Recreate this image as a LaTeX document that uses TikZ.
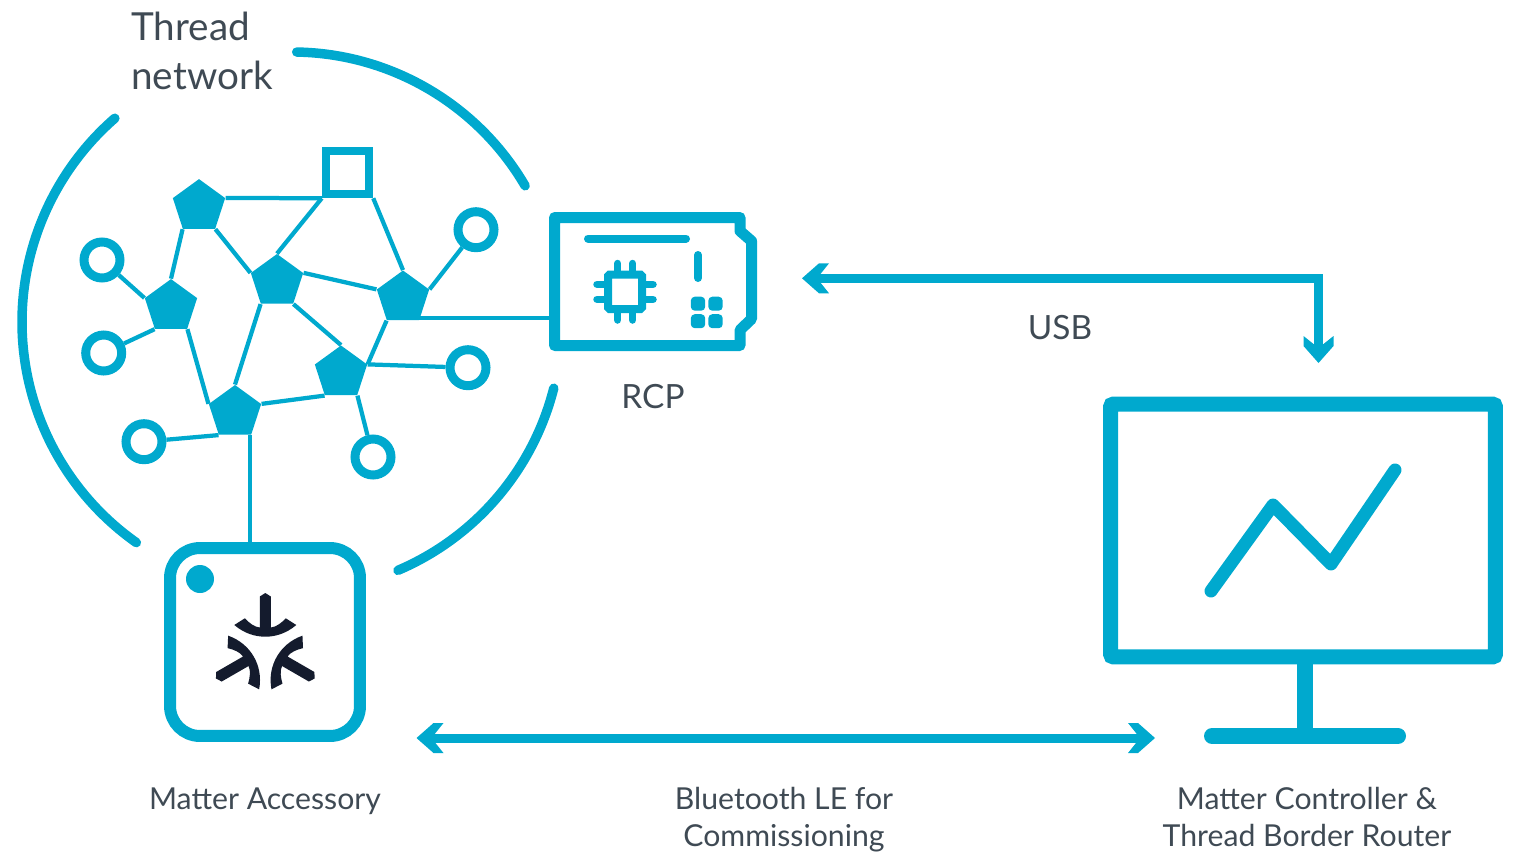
\documentclass[tikz,border=0pt]{standalone}
\usepackage{fontspec}
\setmainfont{Lato}
\usetikzlibrary{shapes.geometric}
\definecolor{nordic}{HTML}{00A9CE}
\definecolor{labelgray}{HTML}{3F4A54}
\definecolor{logodark}{HTML}{141B2D}
\tikzset{
    hub/.style={regular polygon, regular polygon sides=5, fill=nordic, inner sep=0pt, minimum size=1.1cm},
    leaf/.style={circle, draw=nordic, line width=0.18cm, fill=white, inner sep=0pt, minimum size=0.72cm},
    link/.style={color=nordic, line width=0.085cm},
    wave/.style={color=nordic, line width=0.19cm, line cap=round},
    part/.style={color=nordic, line width=0.16cm, line cap=round, line join=round},
    dbl/.style={color=nordic, line width=0.18cm, shorten <=0.2cm, shorten >=0.2cm},
    label/.style={color=labelgray, font=\fontsize{19}{24}\selectfont, align=center},
    small label/.style={label, font=\fontsize{17.2}{21}\selectfont},
    chevron/.pic={\fill[color=nordic] (0,0) -- (17,15) -- (27,15) -- (15,0) -- (27,-15) -- (17,-15) -- cycle;}
}
\begin{document}
\begin{tikzpicture}[x=0.02cm, y=-0.02cm]
    \useasboundingbox (0,0) rectangle (1513,865);

    \coordinate (C) at (292,322);
    \draw[wave] (C) ++(-89:270) arc[start angle=-89, end angle=-30.3, radius=270];
    \draw[wave] (C) ++(14.2:270) arc[start angle=14.2, end angle=66.9, radius=270];
    \draw[wave] (C) ++(125.2:270) arc[start angle=125.2, end angle=229, radius=270];

    % hubs and leaves
    \node[hub] (H1) at (199,206.6) {};
    \node[hub] (H2) at (171,306.6) {};
    \node[hub] (H3) at (277,281.5) {};
    \node[hub] (H4) at (403,298) {};
    \node[hub] (H5) at (341,373) {};
    \node[hub] (H6) at (235,412.5) {};
    \node[leaf] (L1) at (102,260) {};
    \node[leaf] (L2) at (103.7,353) {};
    \node[leaf] (L3) at (144,441.7) {};
    \node[leaf] (L4) at (373,457) {};
    \node[leaf] (L5) at (468,367.7) {};
    \node[leaf] (L6) at (476,229.7) {};
    \node[draw=nordic, line width=0.16cm, fill=white, inner sep=0pt, minimum size=0.87cm] (G) at (347.5,172.5) {};

    \coordinate (R) at (555,318);
    \coordinate (A) at (250,548);

    \draw[link] (H1.corner 5) -- (G.south west);
    \draw[link] (H1.corner 3) -- (H2.corner 1);
    \draw[link] (H1.corner 4) -- (H3.corner 2);
    \draw[link] (G.south west) -- (H3.corner 1);
    \draw[link] (G.south east) -- (H4.corner 1);
    \draw[link] (H3.corner 5) -- (H4.corner 2);
    \draw[link] (H3.corner 3) -- (H6.corner 1);
    \draw[link] (H3.corner 4) -- (H5.corner 1);
    \draw[link] (H2.corner 4) -- (H6.corner 2);
    \draw[link] (H6.corner 5) -- (H5.corner 3);
    \draw[link] (H4.corner 3) -- (H5.corner 5);
    \draw[link] (H2.corner 2) -- (L1);
    \draw[link] (H2.corner 3) -- (L2);
    \draw[link] (H6.corner 3) -- (L3);
    \draw[link] (H5.corner 4) -- (L4);
    \draw[link] (H5.corner 5) -- (L5);
    \draw[link] (H4.corner 5) -- (L6);
    \draw[link] (H4.corner 4 |- R) -- (R);
    \draw[link] (H6.south -| A) -- (A);

    % RCP board
    \draw[color=nordic, line width=0.22cm, line join=round]
        (554.5,217.5) -- (740,217.5) -- (740,231) -- (751.5,241) -- (751.5,319) -- (740,330) -- (740,345.5) -- (554.5,345.5) -- cycle;
    \draw[part] (588,238.5) -- (686,238.5);
    \draw[part] (698,255) -- (698,278);
    \foreach \x in {698,715.5}
        \foreach \y in {303.7,321.2}
            \fill[color=nordic, rounded corners=0.08cm] (\x-7.2,\y-7) rectangle (\x+7.2,\y+7);
    \draw[color=nordic, line width=0.16cm, rounded corners=0.03cm] (608,274.5) rectangle (642,309);
    \foreach \x in {617.7,632.7} {
        \draw[part, line width=0.15cm] (\x,263.5) -- (\x,271);
        \draw[part, line width=0.15cm] (\x,312) -- (\x,320);
    }
    \foreach \y in {284.3,299.3} {
        \draw[part, line width=0.15cm] (597,\y) -- (605,\y);
        \draw[part, line width=0.15cm] (645,\y) -- (653,\y);
    }

    % accessory
    \node[draw=nordic, fill=white, line width=0.24cm, rounded corners=0.6cm, minimum width=3.8cm, minimum height=3.76cm, inner sep=0pt] (acc) at (265,642) {};
    \fill[color=nordic] (200,579) circle (0.28cm);
    \foreach \a in {0,120,240}
        \fill[color=logodark, shift={(265.3,650)}, rotate=\a]
            (0,-57) -- (5.5,-53.5) -- (5.5,-22.5) .. controls (11,-23) and (16,-27) .. (20.5,-31.7)
            -- (31,-25) .. controls (21,-16.5) and (10,-13.3) .. (0,-13.3)
            .. controls (-10,-13.3) and (-21,-16.5) .. (-31,-25)
            -- (-20.5,-31.7) .. controls (-16,-27) and (-11,-23) .. (-5.5,-22.5) -- (-5.5,-53.5) -- cycle;

    % monitor
    \draw[color=nordic, line width=0.32cm] (1305,664) -- (1305,736);
    \draw[color=nordic, line width=0.32cm, line cap=round] (1212,736) -- (1398,736);
    \node[draw=nordic, line width=0.3cm, rounded corners=0.06cm, minimum width=7.7cm, minimum height=5.06cm, inner sep=0pt] (mon) at (1303,530.5) {};
    \draw[color=nordic, line width=0.26cm, line cap=round, line join=round] (1211,591) -- (1273,505) -- (1331,564) -- (1395,470);

    % arrows
    \coordinate (U1) at (802,278.3);
    \coordinate (U2) at (1318.5,363);
    \coordinate (U3) at (1318.5,278.3);
    \coordinate (B1) at (416.5,738);
    \coordinate (B2) at (1155,738);
    \draw[dbl] (U1) -- (U3) -- (U2);
    \draw[dbl] (B1) -- (B2);
    \pic at (U1) {chevron};
    \pic[rotate=90] at (U2) {chevron};
    \pic at (B1) {chevron};
    \pic[rotate=180] at (B2) {chevron};

    \node[label, align=left, anchor=north west, inner sep=0pt, font=\fontsize{22}{27.5}\selectfont] (thread) at (131,12) {Thread\\network};
    \node[label] (usb) at (1060,328) {USB};
    \node[label] (rcp) at (653,397) {RCP};
    \node[small label] (matter) at (265,801) {Matter Accessory};
    \node[small label, anchor=north] (ble) at (784,781) {Bluetooth LE for\\Commissioning};
    \node[small label, anchor=north] (ctrl) at (1307,781) {Matter Controller \&\\Thread Border Router};
\end{tikzpicture}
\end{document}
